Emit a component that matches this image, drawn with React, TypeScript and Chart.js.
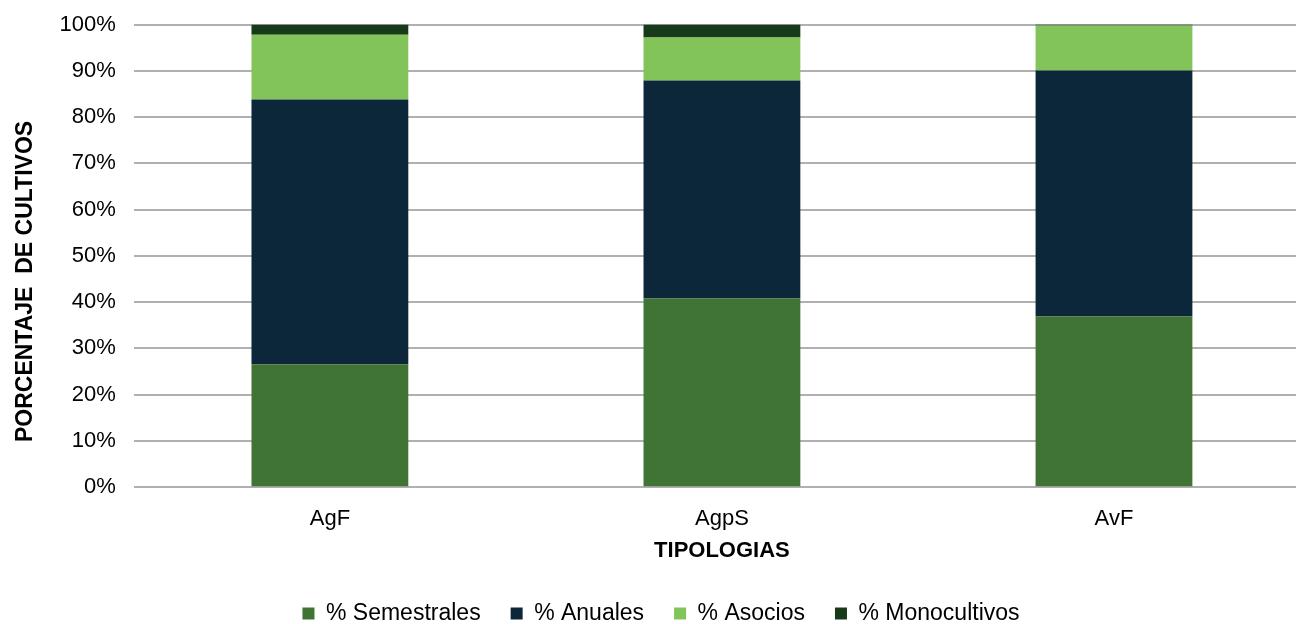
import React, { useEffect, useRef } from "react";
import { Chart, registerables } from "chart.js";

Chart.register(...registerables);

const categories = ["AgF", "AgpS", "AvF"];
const semestrales = [26.6, 40.8, 36.9];
const anuales = [57.2, 47.1, 53.2];
const asocios = [14.0, 9.3, 9.7];
const monocultivos = [2.2, 2.8, 0.2];
const seriesNames = ["% Semestrales", "% Anuales", "% Asocios", "% Monocultivos"];
const seriesColors = ["#407434", "#0b2739", "#82c45a", "#173a18"];

const FONT = "'Liberation Sans', Arial, sans-serif";
const FS = 22;

export default function App() {
  const ref = useRef<HTMLCanvasElement | null>(null);
  useEffect(() => {
    if (!ref.current) return;
    const data = [semestrales, anuales, asocios, monocultivos];
    const chart = new Chart(ref.current, {
      type: "bar",
      data: {
        labels: categories,
        datasets: data.map((d, i) => ({
          label: seriesNames[i],
          data: d,
          backgroundColor: seriesColors[i],
          borderWidth: 0,
          categoryPercentage: 1,
          barPercentage: 0.4,
        })),
      },
      options: {
        animation: false,
        responsive: true,
        maintainAspectRatio: false,
        layout: { padding: { left: 12, right: 4, top: 0, bottom: -11 } },
        plugins: {
          tooltip: { enabled: false },
          legend: {
            position: "bottom",
            labels: {
              color: "#000",
              font: { family: FONT, size: 23 },
              boxWidth: 12,
              boxHeight: 12,
              padding: 30,
            },
          },
        },
        scales: {
          x: {
            stacked: true,
            grid: { display: false },
            border: { display: false },
            ticks: { color: "#000", font: { family: FONT, size: FS }, padding: 11 },
            title: {
              display: true,
              text: "TIPOLOGIAS",
              color: "#000",
              font: { family: FONT, size: FS, weight: "bold" },
              padding: { top: -6, bottom: 8 },
            },
          },
          y: {
            stacked: true,
            min: 0,
            max: 100,
            grid: { color: "#b0b0b0", lineWidth: 2, drawTicks: false },
            border: { display: false },
            ticks: {
              stepSize: 10,
              color: "#000",
              font: { family: FONT, size: FS, lineHeight: 0.6 },
              padding: 18,
              callback: (v: any) => v + "%",
            },
            title: {
              display: true,
              text: "PORCENTAJE  DE CULTIVOS        ",
              color: "#000",
              font: { family: FONT, size: 23, weight: "bold" },
              padding: { top: 0, bottom: 2 },
            },
          },
        },
      },
    });
    return () => chart.destroy();
  }, []);
  return (
    <div style={{ position: "fixed", left: 0, top: 0, width: 1296, height: 624, background: "#fff", overflow: "hidden" }}>
      <div style={{ position: "absolute", left: 0, top: 0, width: 1314, height: 624 }}>
        <canvas ref={ref} />
      </div>
    </div>
  );
}
